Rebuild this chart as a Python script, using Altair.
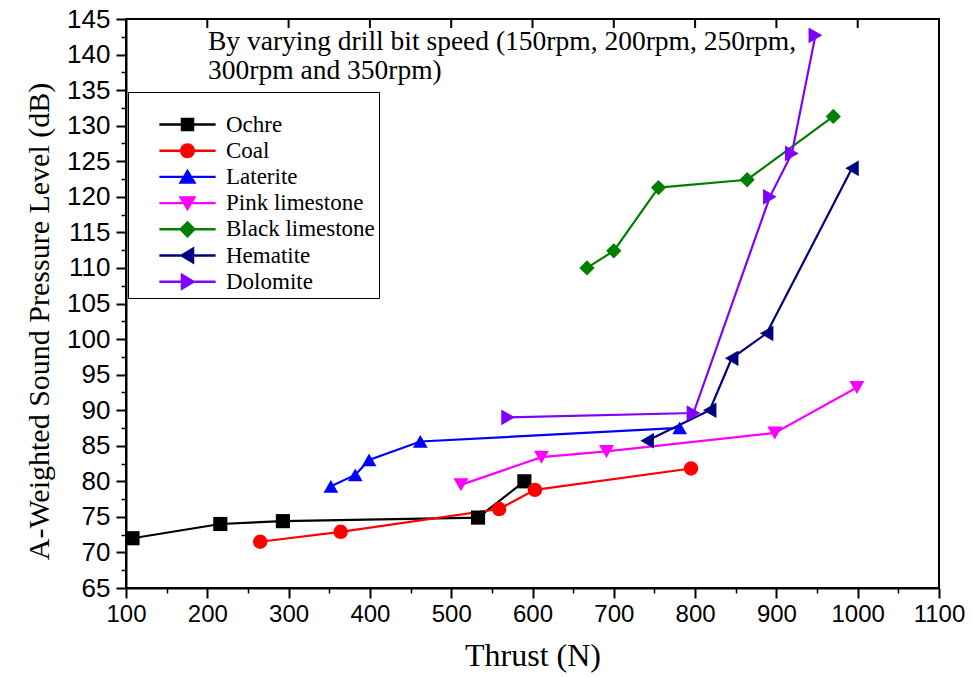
import altair as alt
import pandas as pd

# ---- data -------------------------------------------------------------
materials = ["Ochre", "Coal", "Laterite", "Pink limestone",
             "Black limestone", "Hematite", "Dolomite"]
colors = ["#000000", "#FF0000", "#0000FF", "#FF00FF",
          "#008000", "#000080", "#8000FF"]
shapes = ["square", "circle", "triangle-up", "triangle-down",
          "diamond", "triangle-left", "triangle-right"]
marker_sizes = [200, 250, 380, 380, 260, 380, 380]

ochre_thrust = [108, 216, 293, 533, 590]
ochre_spl = [72.0, 74.0, 74.4, 74.9, 80.0]

coal_thrust = [265, 364, 559, 603, 795]
coal_spl = [71.5, 72.9, 76.1, 78.8, 81.8]

laterite_thrust = [352, 382, 399, 462, 781]
laterite_spl = [79.3, 80.9, 83.0, 85.6, 87.5]

pink_thrust = [512, 611, 691, 898, 999]
pink_spl = [79.5, 83.4, 84.2, 86.8, 93.2]

black_thrust = [667, 700, 755, 864, 970]
black_spl = [110.0, 112.4, 121.3, 122.4, 131.3]

hematite_thrust = [741, 818, 845, 888, 993]
hematite_spl = [85.7, 90.0, 97.3, 100.8, 124.0]

dolomite_thrust = [570, 798, 892, 919, 948]
dolomite_spl = [89.0, 89.6, 120.0, 126.1, 142.7]

series = {
    "Ochre": (ochre_thrust, ochre_spl),
    "Coal": (coal_thrust, coal_spl),
    "Laterite": (laterite_thrust, laterite_spl),
    "Pink limestone": (pink_thrust, pink_spl),
    "Black limestone": (black_thrust, black_spl),
    "Hematite": (hematite_thrust, hematite_spl),
    "Dolomite": (dolomite_thrust, dolomite_spl),
}

x_major = list(range(100, 1101, 100))
x_minor = [v + 50 for v in range(100, 1100, 100)]
y_major = list(range(65, 146, 5))
y_minor = [v + 2.5 for v in range(65, 145, 5)]
top_ticks = list(range(200, 1001, 100))

note_lines = ["By varying drill bit speed (150rpm, 200rpm, 250rpm,",
              "300rpm and 350rpm)"]

rows = []
for name in materials:
    xs, ys = series[name]
    for i, (x, y) in enumerate(zip(xs, ys)):
        rows.append({"Material": name, "Thrust": x, "SPL": y, "step": i})
df = pd.DataFrame(rows)

# ---- legend glyphs: a short line with the marker on top -----------------
seg = "M-3.75,-0.16H3.75V0.16H-3.75Z "
marker_paths = [
    "M-0.9,-0.9H0.9V0.9H-0.9Z",
    "M-1.0,0A1.0,1.0 0 1,1 1.0,0A1.0,1.0 0 1,1 -1.0,0Z",
    "M0,-1.1L1.2,0.9L-1.2,0.9Z",
    "M0,1.1L-1.2,-0.9L1.2,-0.9Z",
    "M0,-1.15L1.15,0L0,1.15L-1.15,0Z",
    "M-1.1,0L0.9,-1.2L0.9,1.2Z",
    "M1.1,0L-0.9,1.2L-0.9,-1.2Z",
]
legend_paths = [seg + p for p in marker_paths]

# ---- scales / axes ------------------------------------------------------
x_scale = alt.Scale(domain=[100, 1100], nice=False, zero=False)
y_scale = alt.Scale(domain=[65, 145], nice=False, zero=False)

x_axis = alt.Axis(
    orient="bottom", values=x_major, format="d", labelOverlap=False,
    labelFlush=False, title="Thrust (N)", grid=False,
    domainColor="black", domainWidth=2, tickColor="black", tickWidth=2,
    tickSize=10, labelFont="Liberation Sans", labelFontSize=24,
    labelColor="black", labelPadding=4,
    titleFont="Liberation Serif", titleFontSize=32, titleFontWeight="normal",
    titleColor="black", titlePadding=14,
)
y_axis = alt.Axis(
    orient="left", values=y_major, format="d", labelOverlap=False,
    labelFlush=False,
    title="A-Weighted Sound Pressure Level (dB)", grid=False,
    domainColor="black", domainWidth=2, tickColor="black", tickWidth=2,
    tickSize=10, labelFont="Liberation Sans", labelFontSize=26,
    labelColor="black", labelPadding=6,
    titleFont="Liberation Serif", titleFontSize=30, titleFontWeight="normal",
    titleColor="black", titlePadding=12, titleY=302,
)
x_minor_axis = alt.Axis(values=x_minor, orient="bottom", labels=False,
                        domain=False, grid=False, title=None,
                        tickSize=5, tickWidth=1.5, tickColor="black")
y_minor_axis = alt.Axis(values=y_minor, orient="left", labels=False,
                        domain=False, grid=False, title=None,
                        tickSize=5, tickWidth=1.5, tickColor="black")

color_enc = alt.Color("Material:N",
                      scale=alt.Scale(domain=materials, range=colors),
                      legend=None)

base = alt.Chart(df)

lines = base.mark_line(strokeWidth=2.2).encode(
    x=alt.X("Thrust:Q", scale=x_scale, axis=x_axis),
    y=alt.Y("SPL:Q", scale=y_scale, axis=y_axis),
    color=color_enc,
    detail="Material:N",
    order="step:Q",
)

points = base.mark_point(filled=True, opacity=1).encode(
    x=alt.X("Thrust:Q", scale=x_scale, axis=None),
    y=alt.Y("SPL:Q", scale=y_scale, axis=None),
    color=color_enc,
    shape=alt.Shape("Material:N",
                    scale=alt.Scale(domain=materials, range=shapes),
                    legend=None),
    size=alt.Size("Material:N",
                  scale=alt.Scale(domain=materials, range=marker_sizes),
                  legend=None),
)

# empty layer carrying the minor ticks and the legend
legend_layer = base.mark_point(filled=True, opacity=1).encode(
    x=alt.X("Thrust:Q", scale=x_scale, axis=x_minor_axis),
    y=alt.Y("SPL:Q", scale=y_scale, axis=y_minor_axis),
    color=alt.Color("Material:N",
                    scale=alt.Scale(domain=materials, range=colors),
                    legend=alt.Legend(
                        title=" ", titleFontSize=1, titlePadding=16,
                        orient="none", legendX=2, legendY=73,
                        padding=4, symbolOffset=44, labelOffset=27,
                        symbolSize=225, symbolStrokeWidth=0,
                        symbolOpacity=1,
                        labelFont="Liberation Serif", labelFontSize=23,
                        labelColor="black", rowPadding=2.2,
                        strokeColor="black", fillColor="white")),
    shape=alt.Shape("Material:N",
                    scale=alt.Scale(domain=materials, range=legend_paths)),
).transform_filter("datum.Thrust < 0")

top_tick_layer = alt.Chart(pd.DataFrame({"t": top_ticks})).mark_rule(
    color="black", strokeWidth=2
).encode(
    x=alt.X("t:Q", scale=x_scale, axis=None),
    y=alt.value(0),
    y2=alt.value(9),
)

note = alt.Chart(pd.DataFrame({"k": [0]})).mark_text(
    align="left", baseline="alphabetic", font="Liberation Serif",
    fontSize=27.5, lineHeight=29, color="black",
).encode(
    x=alt.value(82),
    y=alt.value(31),
    text=alt.value(note_lines),
)

chart = alt.layer(
    lines, points, legend_layer, top_tick_layer, note
).resolve_scale(
    color="independent", shape="independent"
).resolve_axis(
    x="independent", y="independent"
).properties(
    width=813, height=569,
    autosize=alt.AutoSizeParams(type="none"),
    padding={"left": 126, "top": 19, "right": 33, "bottom": 89},
    background="white",
).configure_view(
    stroke="black", strokeWidth=2
)

chart.save("out.html", embed_options={"renderer": "svg", "actions": False})
